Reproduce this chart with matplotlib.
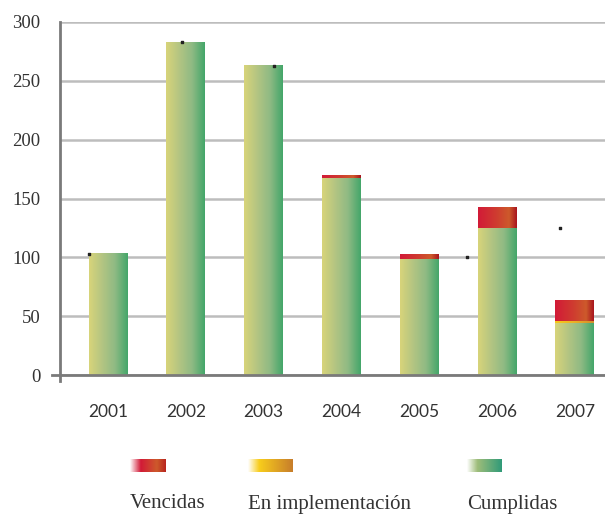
import numpy as np
import matplotlib
matplotlib.use("Agg")
import matplotlib.pyplot as plt
from matplotlib.colors import LinearSegmentedColormap
from matplotlib.lines import Line2D

# ---- data ----
years = ["2001", "2002", "2003", "2004", "2005", "2006", "2007"]
cumplidas = [103, 283, 263, 167, 99, 125, 44.5]
en_implementacion = [0, 0, 0, 0, 0, 0, 1.5]
vencidas = [0, 0, 0, 2, 4, 17, 17]
y_ticks = [0, 50, 100, 150, 200, 250, 300]
legend_labels = ["Vencidas", "En implementación", "Cumplidas"]
# stray label marks in the original (category offset, value)
mark_offsets = [-0.24, -0.05, 0.13, -0.39, -0.19]
mark_cats = [0, 1, 2, 5, 6]
mark_values = [103, 283, 263, 100.5, 125]

green_cmap = LinearSegmentedColormap.from_list(
    "g", ["#d8d47a", "#b4c582", "#8fba84", "#43a66a"])
red_cmap = LinearSegmentedColormap.from_list(
    "r", [(0, "#d21a37"), (0.45, "#cf3a30"), (0.8, "#cd5a2b"), (1, "#a8141e")])
yel_cmap = LinearSegmentedColormap.from_list(
    "y", ["#f8c91a", "#eab126", "#d28e2c"])

fig = plt.figure(figsize=(6.05, 5.14), dpi=100)
W, H = 605, 514
ax = fig.add_axes([60 / W, 1 - 375 / H, 545 / W, (375 - 22) / H])
ax.set_xlim(-0.617, 6.388)
ax.set_ylim(0, 300)

x = np.arange(len(years))
width = 0.5
grad = np.linspace(0, 1, 256).reshape(1, -1)

def grad_bars(bottom, heights, cmap):
    bars = ax.bar(x, heights, width, bottom=bottom, color="none",
                  edgecolor="none", zorder=3)
    for b, h in zip(bars, heights):
        if h <= 0:
            continue
        x0, y0 = b.get_x(), b.get_y()
        ax.imshow(grad, cmap=cmap, aspect="auto", interpolation="bilinear",
                  extent=[x0, x0 + b.get_width(), y0, y0 + b.get_height()],
                  zorder=3)
    return bars

b0 = np.zeros(len(years))
grad_bars(b0, cumplidas, green_cmap)
b1 = b0 + np.array(cumplidas)
grad_bars(b1, en_implementacion, yel_cmap)
b2 = b1 + np.array(en_implementacion)
grad_bars(b2, vencidas, red_cmap)
ax.set_xlim(-0.617, 6.388)
ax.set_ylim(0, 300)

ax.scatter(np.array(mark_cats) + np.array(mark_offsets), mark_values,
           marker="s", s=3, color="#222222", zorder=5)

# grid & spines
ax.set_yticks(y_ticks)
ax.yaxis.grid(True, color="#bdbdbd", linewidth=1.8, zorder=0)
ax.set_axisbelow(True)
for s in ["top", "right"]:
    ax.spines[s].set_visible(False)
ax.spines["left"].set_color("#7a7a7a")
ax.spines["left"].set_linewidth(2)
ax.spines["bottom"].set_color("#7a7a7a")
ax.spines["bottom"].set_linewidth(2)
ax.spines["left"].set_bounds(-5, 300)
ax.spines["left"].set_zorder(6)
ax.spines["bottom"].set_zorder(6)
# extend bottom axis a bit left of the y axis
ax.add_line(Line2D([-8 / 545, 0.0], [0, 0], transform=ax.get_yaxis_transform(),
                   color="#7a7a7a", linewidth=2, clip_on=False, zorder=6))
ax.tick_params(axis="both", length=0)
ax.set_yticklabels([str(v) for v in y_ticks], fontfamily="Liberation Serif",
                   fontsize=13.5, color="#333333")
ax.tick_params(axis="y", pad=14)
ax.set_xticks(x)
ax.set_xticklabels(years, fontfamily="Lato", fontsize=12.5, color="#333333")
ax.tick_params(axis="x", pad=21)

# legend
leg_ax = fig.add_axes([0, 0, 1, 1], zorder=-1)
leg_ax.set_xlim(0, W)
leg_ax.set_ylim(H, 0)
leg_ax.axis("off")
sw_left = [130, 248, 467]
sw_w = [36, 45, 35]
sw_cmaps = [
    LinearSegmentedColormap.from_list("rv", [(0, "#ffffff"), (0.3, "#d21a37"), (0.75, "#cd5a2b"), (1, "#b8241f")]),
    LinearSegmentedColormap.from_list("yv", [(0, "#ffffff"), (0.25, "#f8cd1c"), (1, "#c77d2b")]),
    LinearSegmentedColormap.from_list("gv", [(0, "#ffffff"), (0.3, "#9ebd7a"), (1, "#2f9a78")]),
]
for lx, w, cm, lab in zip(sw_left, sw_w, sw_cmaps, legend_labels):
    leg_ax.imshow(grad, cmap=cm, aspect="auto", interpolation="bilinear",
                  extent=[lx, lx + w, 472, 459])
    leg_ax.text(lx, 504, lab, fontfamily="Liberation Serif", fontsize=15,
                color="#333333", ha="left", va="center")
leg_ax.set_xlim(0, W)
leg_ax.set_ylim(H, 0)

fig.savefig("out.png", dpi=100)
